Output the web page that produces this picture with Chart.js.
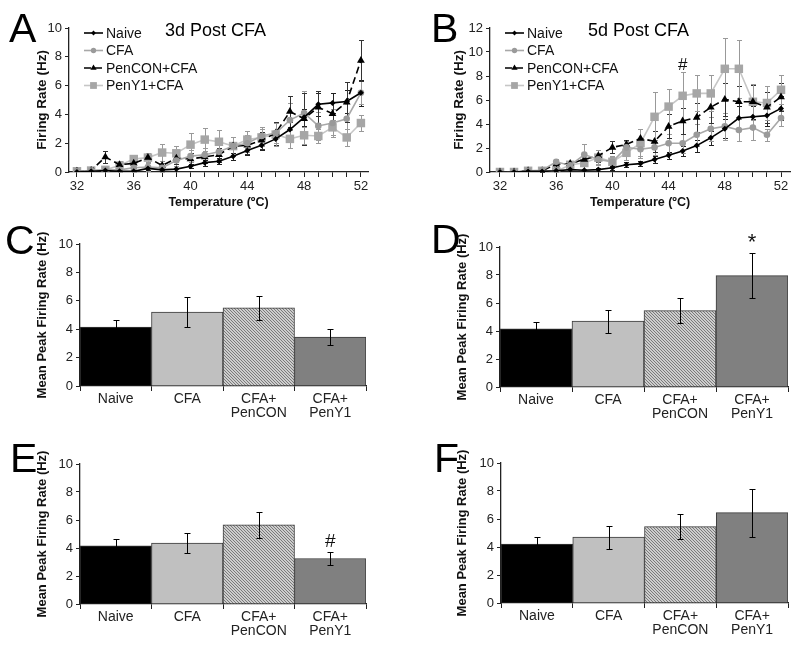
<!DOCTYPE html>
<html>
<head>
<meta charset="utf-8">
<script src="https://cdn.jsdelivr.net/npm/chart.js@4.4.1/dist/chart.umd.min.js"></script>
<style>
body{margin:0;background:#fff;}
#fig{position:relative;width:800px;height:647px;overflow:hidden;font-family:"Liberation Sans",Arial,sans-serif;}
.box{position:absolute;}
.txt{position:absolute;line-height:1;color:#000;white-space:nowrap;}
.letter{font-size:41px;}
.ttl{font-size:18px;}
</style>
</head>
<body>
<div id="fig">
  <div class="box" style="left:0;top:0"><canvas id="cA" width="400" height="215"></canvas></div>
  <div class="box" style="left:400px;top:0"><canvas id="cB" width="400" height="215"></canvas></div>
  <div class="box" style="left:0;top:215px"><canvas id="cC" width="400" height="215"></canvas></div>
  <div class="box" style="left:400px;top:215px"><canvas id="cD" width="400" height="215"></canvas></div>
  <div class="box" style="left:0;top:430px"><canvas id="cE" width="400" height="217"></canvas></div>
  <div class="box" style="left:400px;top:430px"><canvas id="cF" width="400" height="217"></canvas></div>

  <div class="txt letter" style="left:9px;top:8px">A</div>
  <div class="txt letter" style="left:431px;top:8px">B</div>
  <div class="txt letter" style="left:5px;top:220px">C</div>
  <div class="txt letter" style="left:431px;top:219px">D</div>
  <div class="txt letter" style="left:10px;top:438px">E</div>
  <div class="txt letter" style="left:434px;top:438px">F</div>
  <div class="txt ttl" style="left:165px;top:21px">3d Post CFA</div>
  <div class="txt ttl" style="left:588px;top:21px">5d Post CFA</div>
</div>
<script>
// temperatures (x axis, deg C)
const temps = [32,33,34,35,36,37,38,39,40,41,42,43,44,45,46,47,48,49,50,51,52];

// panel A - 3d post CFA, firing rate (Hz) and SEM
const naiveA  = [0,0.05,0.1,0.05,0.05,0.25,0.15,0.2,0.4,0.65,0.75,1.1,1.5,1.85,2.3,2.95,3.8,4.7,4.8,4.9,5.5];
const cfaA    = [0.05,0.1,0.15,0.15,0.3,0.35,0.3,0.8,1.1,1.2,1.4,1.8,2.0,2.5,2.7,3.6,4.1,3.2,3.4,3.7,5.5];
const penconA = [0.05,0.1,1.05,0.5,0.6,1.0,0.45,0.95,0.9,1.05,1.2,1.8,1.85,2.2,2.7,4.2,3.7,4.5,4.05,4.85,7.75];
const peny1A  = [0.05,0.1,0.15,0.45,0.9,1.0,1.35,1.3,1.9,2.25,2.1,1.8,2.25,2.4,2.6,2.3,2.55,2.5,3.1,2.4,3.4];
const naiveAErr  = [0,0,0.05,0.05,0.05,0.1,0.1,0.1,0.15,0.2,0.2,0.25,0.3,0.35,0.4,0.5,0.6,0.8,0.7,0.8,0.9];
const cfaAErr    = [0,0,0.1,0.2,0.3,0.3,0.3,0.4,0.4,0.5,0.5,0.6,0.6,0.6,0.7,1.2,1.5,1.0,1.0,1.2,0.8];
const penconAErr = [0,0,0.4,0.2,0.3,0.3,0.3,0.4,0.4,0.4,0.5,0.6,0.6,0.6,0.8,1.1,1.8,1.1,0.8,1.4,1.45];
const peny1AErr  = [0,0,0.1,0.3,0.3,0.3,0.6,0.5,0.8,0.8,0.8,0.6,0.6,0.6,0.8,0.6,0.6,0.5,0.5,0.6,0.55];

// panel B - 5d post CFA
const naiveB  = [0,0,0.05,0.05,0.1,0.2,0.15,0.2,0.35,0.6,0.7,1.05,1.4,1.75,2.2,2.85,3.6,4.5,4.6,4.7,5.3];
const cfaB    = [0,0,0.1,0.15,0.85,0.55,1.45,1.05,0.85,2.05,1.9,2.05,2.4,2.4,3.1,3.6,3.8,3.5,3.7,3.1,4.5];
const penconB = [0,0,0.1,0.1,0.65,0.7,1.05,1.35,2.05,2.3,2.8,2.55,3.8,4.25,4.55,5.4,6.05,5.85,5.85,5.4,6.25];
const peny1B  = [0,0,0.1,0.1,0.05,0.6,0.75,1.2,0.85,1.6,2.4,4.6,5.45,6.35,6.55,6.55,8.6,8.6,5.85,5.75,6.85];
const naiveBErr  = [0,0,0,0,0.05,0.1,0.1,0.1,0.15,0.2,0.2,0.3,0.3,0.4,0.5,0.6,0.8,1.0,0.9,0.9,1.0];
const cfaBErr    = [0,0,0.05,0.1,0.2,0.2,0.85,0.4,0.4,0.5,0.6,0.6,0.8,0.8,0.9,1.0,1.1,0.9,1.0,0.5,0.7];
const penconBErr = [0,0,0.05,0.1,0.2,0.2,0.4,0.5,0.5,0.4,0.8,0.9,1.0,1.1,1.2,1.3,1.4,1.3,1.4,1.3,1.2];
const peny1BErr  = [0,0,0.05,0.05,0.05,0.3,0.5,0.6,0.5,0.6,1.2,2.1,1.5,2.0,1.5,1.5,2.6,2.4,1.5,1.4,1.2];

// panels C-F - mean peak firing rate (Hz) and SEM
const barLabels = ['Naive','CFA',['CFA+','PenCON'],['CFA+','PenY1']];
const meanC = [4.15,5.2,5.5,3.45];   const errC = [0.5,1.05,0.83,0.57];
const meanD = [4.15,4.7,5.45,7.95];  const errD = [0.5,0.82,0.9,1.6];
const meanE = [4.15,4.35,5.65,3.25]; const errE = [0.5,0.7,0.95,0.45];
const meanF = [4.2,4.7,5.45,6.45];   const errF = [0.5,0.82,0.88,1.7];

Chart.defaults.font.family = '"Liberation Sans", Arial, sans-serif';
Chart.defaults.color = '#222';
Chart.defaults.animation = false;

function marker(ctx, style, x, y, r){
  ctx.beginPath();
  if(style==='circle'){ ctx.arc(x,y,r,0,Math.PI*2); }
  else if(style==='triangle'){ ctx.moveTo(x,y-r); ctx.lineTo(x+r*0.87,y+r*0.5); ctx.lineTo(x-r*0.87,y+r*0.5); ctx.closePath(); }
  else if(style==='rect'){ const s=r*0.707; ctx.rect(x-s,y-s,2*s,2*s); }
  else { ctx.moveTo(x,y-r); ctx.lineTo(x+r,y); ctx.lineTo(x,y+r); ctx.lineTo(x-r,y); ctx.closePath(); }
  ctx.fill();
}

function drawErr(chart){
  const ctx = chart.ctx, ys = chart.scales.y;
  chart.data.datasets.forEach((ds,i)=>{
    if(!ds.errors) return;
    const meta = chart.getDatasetMeta(i);
    ctx.save();
    ctx.strokeStyle = ds.errColor || '#000';
    ctx.lineWidth = 1;
    meta.data.forEach((el,j)=>{
      const e = ds.errors[j];
      if(!e) return;
      const v = typeof ds.data[j]==='object' ? ds.data[j].y : ds.data[j];
      const x = Math.round(el.x)+0.5;
      const yt = Math.round(ys.getPixelForValue(v+e))+0.5;
      const yb = Math.round(ys.getPixelForValue(Math.max(v-e,0)))+0.5;
      const c = ds.errCap || 2.5;
      ctx.beginPath();
      ctx.moveTo(x,yb); ctx.lineTo(x,yt);
      ctx.moveTo(x-c,yt); ctx.lineTo(x+c,yt);
      ctx.moveTo(x-c,yb); ctx.lineTo(x+c,yb);
      ctx.stroke();
    });
    ctx.restore();
  });
}

const errorBars = {
  id:'errorBars',
  beforeDatasetsDraw(chart){ if(chart.config.type==='line') drawErr(chart); },
  afterDatasetsDraw(chart){ if(chart.config.type==='bar') drawErr(chart); }
};

const marks = {
  id:'marks',
  afterDraw(chart, args, opts){
    if(!opts.items) return;
    const ctx = chart.ctx;
    ctx.save();
    ctx.fillStyle = '#111';
    ctx.textAlign = 'center';
    ctx.textBaseline = 'middle';
    opts.items.forEach(m=>{
      ctx.font = (m.size||18)+'px "Liberation Sans", Arial, sans-serif';
      ctx.fillText(m.text, chart.scales.x.getPixelForValue(m.x), chart.scales.y.getPixelForValue(m.y));
    });
    ctx.restore();
  }
};

const inLegend = {
  id:'inLegend',
  afterDraw(chart, args, opts){
    if(opts.x==null) return;
    const ctx = chart.ctx;
    ctx.save();
    chart.data.datasets.forEach((ds,i)=>{
      const y = opts.y + i*opts.dy, x = opts.x;
      ctx.strokeStyle = ds.borderColor;
      ctx.lineWidth = ds.borderWidth;
      ctx.setLineDash(ds.borderDash || []);
      ctx.beginPath(); ctx.moveTo(x,y); ctx.lineTo(x+19,y); ctx.stroke();
      ctx.setLineDash([]);
      ctx.fillStyle = ds.pointBackgroundColor;
      marker(ctx, ds.pointStyle, x+9.5, y, ds.pointRadius*0.8);
      ctx.fillStyle = '#111';
      ctx.font = '14px "Liberation Sans", Arial, sans-serif';
      ctx.textBaseline = 'middle';
      ctx.fillText(ds.label, x+22, y+1);
    });
    ctx.restore();
  }
};

function lineSet(label, vals, errs, style){
  return Object.assign({
    label, errors: errs,
    data: temps.map((t,i)=>({x:t, y:vals[i]})),
    fill:false, tension:0, borderWidth:1.6, pointBorderWidth:0
  }, style);
}

const stNaive  = {borderColor:'#000', pointStyle:'rectRot', pointRadius:3, pointBackgroundColor:'#000', pointBorderColor:'#000', errColor:'#222'};
const stCfa    = {borderColor:'#a8a8a8', pointStyle:'circle', pointRadius:3.3, pointBackgroundColor:'#9a9a9a', pointBorderColor:'#9a9a9a', errColor:'#9a9a9a'};
const stPencon = {borderColor:'#000', borderDash:[7,4], pointStyle:'triangle', pointRadius:4.5, pointBackgroundColor:'#000', pointBorderColor:'#000', errColor:'#333'};
const stPeny1  = {borderColor:'#c6c6c6', pointStyle:'rect', pointRadius:6, pointBackgroundColor:'#a6a6a6', pointBorderColor:'#a6a6a6', errColor:'#999'};

function lineChart(id, sets, p){
  return new Chart(document.getElementById(id), {
    type:'line',
    data:{datasets:sets},
    plugins:[errorBars, marks, inLegend],
    options:{
      responsive:false,
      layout:{padding:{left:0, top:p.top, right:p.right, bottom:0}},
      plugins:{legend:{display:false}, tooltip:{enabled:false}, inLegend:p.legend, marks:{items:p.marks}},
      scales:{
        x:{
          type:'linear', min:p.xmin, max:p.xmax,
          afterBuildTicks: ax => { ax.ticks = temps.map(v=>({value:v})); },
          ticks:{autoSkip:false, maxRotation:0, padding:2, color:'#222', font:{size:13}, callback: v => (v-32)%4===0 ? String(v) : ''},
          grid:{drawOnChartArea:false, tickLength:5, color:'#222'},
          border:{color:'#222', width:1.3},
          title:{display:true, text:'Temperature (ºC)', color:'#111', font:{size:12.5, weight:'bold'}, padding:{top:0, bottom:5}},
          afterFit: ax => { ax.height = p.xh; ax.paddingLeft = 0; ax.paddingRight = 0; }
        },
        y:{
          min:0, max:p.ymax,
          ticks:{stepSize:2, padding:3, color:'#222', font:{size:13}},
          grid:{drawOnChartArea:false, tickLength:4, color:'#222'},
          border:{color:'#222', width:1.3},
          title:{display:true, text:'Firing Rate (Hz)', color:'#111', font:{size:13.5, weight:'bold'}, padding:{top:p.ytp, bottom:0}},
          afterFit: ax => { ax.width = p.yw; ax.paddingTop = 0; ax.paddingBottom = 0; }
        }
      }
    }
  });
}

lineChart('cA', [
  lineSet('Naive', naiveA, naiveAErr, stNaive),
  lineSet('CFA', cfaA, cfaAErr, stCfa),
  lineSet('PenCON+CFA', penconA, penconAErr, stPencon),
  lineSet('PenY1+CFA', peny1A, peny1AErr, stPeny1)
], {top:28, right:32, xh:43, yw:69, ytp:34, xmin:31.44, xmax:52.5, ymax:10,
    legend:{x:84, y:33, dy:17.5}, marks:[]});

lineChart('cB', [
  lineSet('Naive', naiveB, naiveBErr, stNaive),
  lineSet('CFA', cfaB, cfaBErr, stCfa),
  lineSet('PenCON+CFA', penconB, penconBErr, stPencon),
  lineSet('PenY1+CFA', peny1B, peny1BErr, stPeny1)
], {top:28, right:10, xh:43, yw:90, ytp:51, xmin:31.29, xmax:52.64, ymax:12,
    legend:{x:105, y:33, dy:17.5}, marks:[{x:45, y:8.9, text:'#', size:17}]});

// hatched fill for the CFA+PenCON bars
function hatch(){
  const c = document.createElement('canvas');
  c.width = 3; c.height = 3;
  const g = c.getContext('2d');
  g.fillStyle = '#cdcdcd'; g.fillRect(0,0,3,3);
  g.fillStyle = '#7a7a7a';
  for(let i=0;i<3;i++) g.fillRect(i,i,1,1);
  return g.createPattern(c,'repeat');
}
const barFill = ['#000000','#c0c0c0',hatch(),'#808080'];

function barChart(id, vals, errs, p){
  return new Chart(document.getElementById(id), {
    type:'bar',
    data:{labels:barLabels, datasets:[{
      data:vals, errors:errs, backgroundColor:barFill, borderColor:'#3a3a3a', borderWidth:1,
      barPercentage:1, categoryPercentage:1, errColor:'#000', errCap:3
    }]},
    plugins:[errorBars, marks],
    options:{
      responsive:false,
      layout:{padding:{left:0, top:p.top, right:p.right, bottom:0}},
      plugins:{legend:{display:false}, tooltip:{enabled:false}, marks:{items:p.marks}},
      scales:{
        x:{
          ticks:{autoSkip:false, maxRotation:0, padding:1, color:'#222', font:{size:14, lineHeight:1.0}},
          grid:{offset:true, drawOnChartArea:false, tickLength:5, color:'#222'},
          border:{color:'#222', width:1.3},
          afterFit: ax => { ax.height = p.xh; ax.paddingLeft = 0; ax.paddingRight = 0; }
        },
        y:{
          min:0, max:10,
          ticks:{stepSize:2, padding:3, color:'#222', font:{size:13}},
          grid:{drawOnChartArea:false, tickLength:4, color:'#222'},
          border:{color:'#222', width:1.3},
          title:{display:true, text:'Mean Peak Firing Rate (Hz)', color:'#111', font:{size:13, weight:'bold'}, padding:{top:p.ytp, bottom:0}},
          afterFit: ax => { ax.width = p.yw; ax.paddingTop = 0; ax.paddingBottom = 0; }
        }
      }
    }
  });
}

barChart('cC', meanC, errC, {top:29, right:34, xh:44, yw:80, ytp:35, marks:[]});
barChart('cD', meanD, errD, {top:32, right:12, xh:43, yw:100, ytp:55, marks:[{x:3, y:10.3, text:'*', size:22}]});
barChart('cE', meanE, errE, {top:34, right:34, xh:43, yw:80, ytp:35, marks:[{x:3, y:4.45, text:'#', size:19}]});
barChart('cF', meanF, errF, {top:33, right:12, xh:44, yw:101, ytp:55, marks:[]});
</script>
</body>
</html>
